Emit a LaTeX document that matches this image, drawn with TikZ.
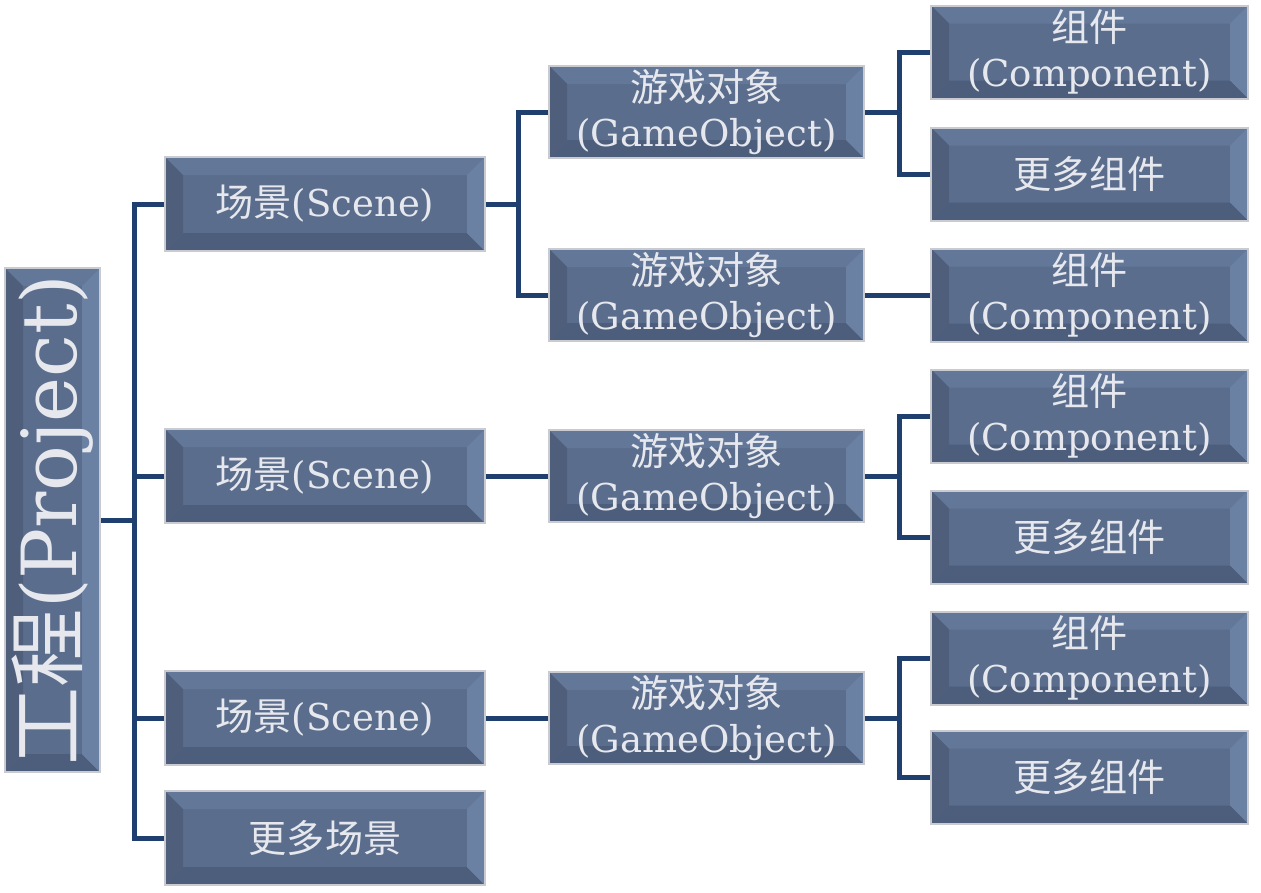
\documentclass[tikz,border=0pt]{standalone}
\usepackage{fontspec}
\usepackage{graphicx}
\setmainfont{DejaVu Serif}
\newfontfamily\cjk[Scale=1.03]{Noto Sans CJK SC}
\definecolor{slate}{HTML}{5A6D8C}
\definecolor{bevtop}{HTML}{637899}
\definecolor{bevleft}{HTML}{4E5E7B}
\definecolor{bevright}{HTML}{6B81A4}
\definecolor{bevbottom}{HTML}{4D5E7C}
\definecolor{rim}{HTML}{C9CBD0}
\definecolor{linkblue}{HTML}{1F3F6F}
\definecolor{label}{HTML}{E6E8EE}
\begin{document}
\begin{tikzpicture}[x=1pt,y=-1pt]
\tikzstyle{bevel}=[draw=rim, line width=2pt, fill=slate, text=label, inner sep=0pt, align=center,
  font=\fontsize{37}{45}\selectfont,
  path picture={
    \fill[bevtop] (path picture bounding box.north west) -- (path picture bounding box.north east)
      -- ([shift={(-18pt,-18pt)}]path picture bounding box.north east) -- ([shift={(18pt,-18pt)}]path picture bounding box.north west) -- cycle;
    \fill[bevbottom] (path picture bounding box.south west) -- (path picture bounding box.south east)
      -- ([shift={(-18pt,18pt)}]path picture bounding box.south east) -- ([shift={(18pt,18pt)}]path picture bounding box.south west) -- cycle;
    \fill[bevleft] (path picture bounding box.north west) -- (path picture bounding box.south west)
      -- ([shift={(18pt,18pt)}]path picture bounding box.south west) -- ([shift={(18pt,-18pt)}]path picture bounding box.north west) -- cycle;
    \fill[bevright] (path picture bounding box.north east) -- (path picture bounding box.south east)
      -- ([shift={(-18pt,18pt)}]path picture bounding box.south east) -- ([shift={(-18pt,-18pt)}]path picture bounding box.north east) -- cycle;
  }]
\tikzstyle{scene}=[bevel, minimum width=320pt, minimum height=94pt]
\tikzstyle{gobj}=[bevel, minimum width=315pt, minimum height=92pt]
\tikzstyle{comp}=[bevel, minimum width=317pt, minimum height=93pt]
\tikzstyle{link}=[draw=linkblue, line width=5pt]
\useasboundingbox (0,0) rectangle (1261,892);
% vertices
\node[bevel, minimum width=95pt, minimum height=504pt] (proj) at (52.5,520)
  {\rotatebox{90}{\fontsize{76}{76}\selectfont{\cjk 工程}(Project)}};
\node[scene] (sc1) at (325,204) {{\cjk 场景}(Scene)};
\node[scene] (sc2) at (325,476) {{\cjk 场景}(Scene)};
\node[scene] (sc3) at (325,718) {{\cjk 场景}(Scene)};
\node[scene] (sc4) at (325,838) {\cjk 更多场景};
\node[gobj] (go1) at (706.5,112) {{\cjk 游戏对象}\\(GameObject)};
\node[gobj] (go2) at (706.5,295) {{\cjk 游戏对象}\\(GameObject)};
\node[gobj] (go3) at (706.5,476) {{\cjk 游戏对象}\\(GameObject)};
\node[gobj] (go4) at (706.5,718) {{\cjk 游戏对象}\\(GameObject)};
\node[comp] (c1) at (1089.5,52) {{\cjk 组件}\\(Component)};
\node[comp] (c2) at (1089.5,174) {\cjk 更多组件};
\node[comp] (c3) at (1089.5,295) {{\cjk 组件}\\(Component)};
\node[comp] (c4) at (1089.5,416) {{\cjk 组件}\\(Component)};
\node[comp] (c5) at (1089.5,537) {\cjk 更多组件};
\node[comp] (c6) at (1089.5,658) {{\cjk 组件}\\(Component)};
\node[comp] (c7) at (1089.5,777) {\cjk 更多组件};
% edges
\draw[link] (proj.east) -- ++(33,0) coordinate (pj);
\draw[link] (pj) |- (sc1.west);
\draw[link] (pj) |- (sc2.west);
\draw[link] (pj) |- (sc3.west);
\draw[link] (pj) |- (sc4.west);
\draw[link] (sc1.east) -- ++(32,0) coordinate (s1j);
\draw[link] (s1j) |- (go1.west);
\draw[link] (s1j) |- (go2.west);
\draw[link] (sc2.east) -- (go3.west);
\draw[link] (sc3.east) -- (go4.west);
\draw[link] (go1.east) -- ++(34,0) coordinate (g1j);
\draw[link] (g1j) |- (c1.west);
\draw[link] (g1j) |- (c2.west);
\draw[link] (go2.east) -- (c3.west);
\draw[link] (go3.east) -- ++(34,0) coordinate (g3j);
\draw[link] (g3j) |- (c4.west);
\draw[link] (g3j) |- (c5.west);
\draw[link] (go4.east) -- ++(34,0) coordinate (g4j);
\draw[link] (g4j) |- (c6.west);
\draw[link] (g4j) |- (c7.west);
\end{tikzpicture}
\end{document}
